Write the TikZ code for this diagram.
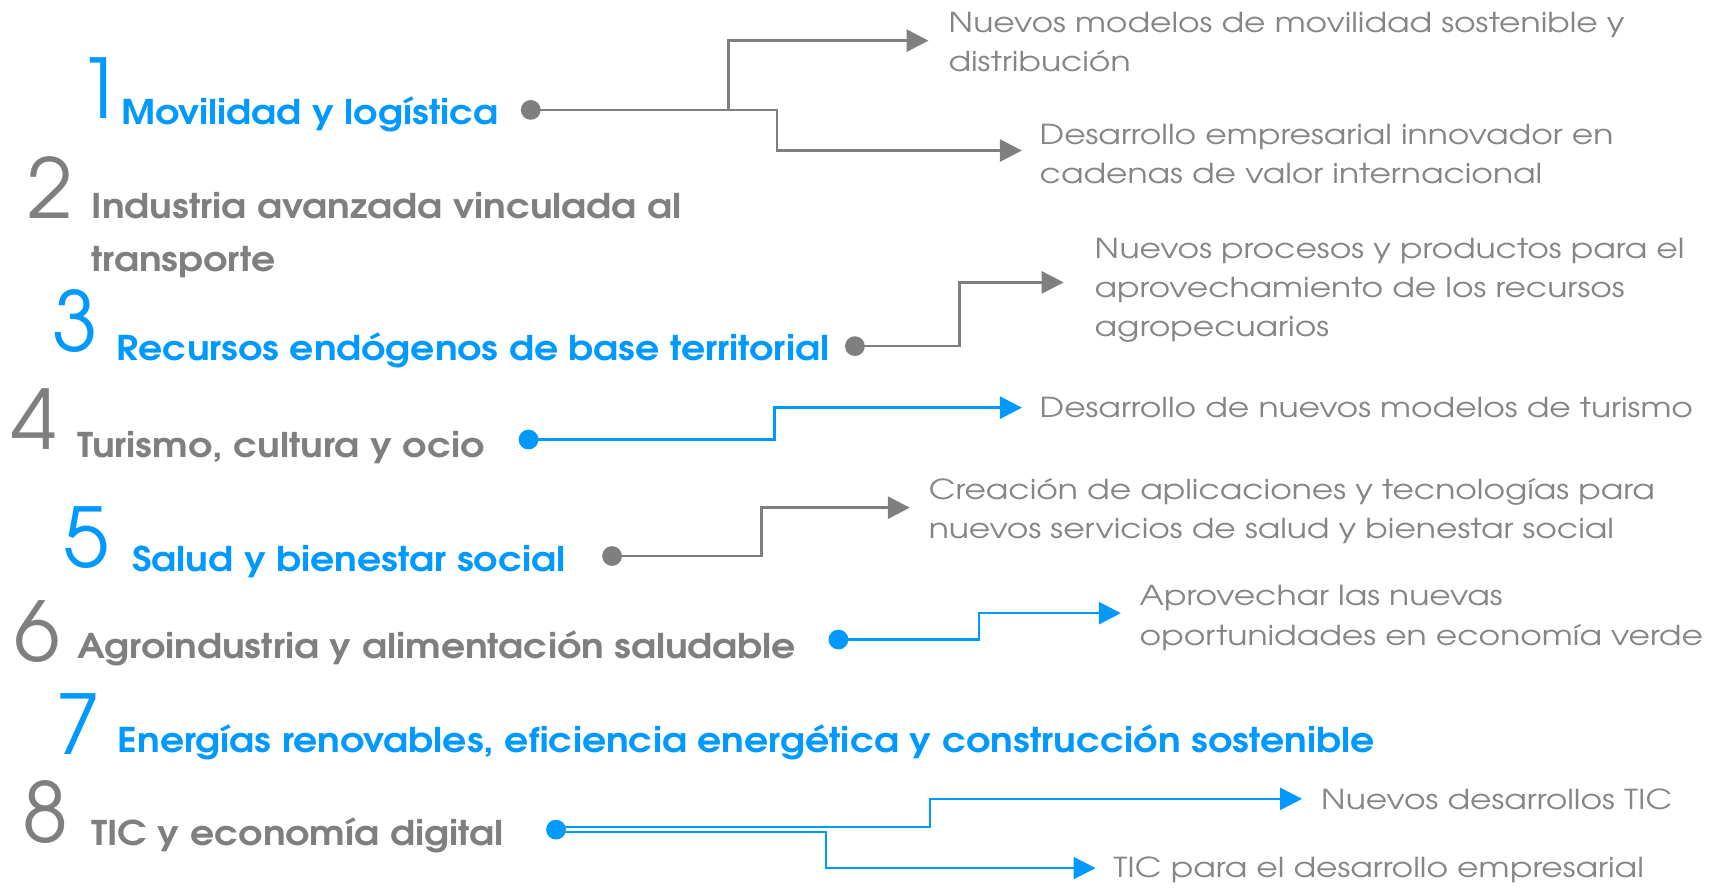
\documentclass[tikz,border=0pt]{standalone}
\usepackage{fontspec}
\setmainfont{TeX Gyre Adventor}
\newfontfamily\rtfont[FakeStretch=1.2]{TeX Gyre Adventor}
\newfontfamily\labfont[FakeStretch=1.11]{TeX Gyre Adventor}
\usetikzlibrary{arrows.meta}
\definecolor{cblue}{HTML}{0099FF}
\definecolor{cgray}{HTML}{7F7F7F}
\definecolor{tgray}{HTML}{858585}
\tikzset{
  num/.style={anchor=base west,inner sep=0,font=\fontsize{75}{75}\selectfont},
  lab/.style={anchor=base west,inner sep=0,font=\labfont\fontsize{31}{48}\selectfont\bfseries,align=left},
  rtxt/.style={anchor=base west,inner sep=0,text=tgray,font=\rtfont\fontsize{25}{35.7}\selectfont,align=left},
  dotn/.style={circle,fill,inner sep=0,minimum size=18pt},
  conn/.style={line width=2.4pt,-{Triangle[length=20pt,width=20pt]}},
  thinconn/.style={conn,line width=1.8pt},
}
\begin{document}
\begin{tikzpicture}[x=1pt,y=-1pt]
\useasboundingbox (0,0) rectangle (1568,810);
% numbers
\node[num,text=cblue] (n1) at (70,108) {1};
\node[num,text=cgray] (n2) at (25,199) {2};
\node[num,text=cblue] (n3) at (48,320) {3};
\node[num,text=cgray] (n4) at (10,409) {4};
\node[num,text=cblue] (n5) at (58,516) {5};
\node[num,text=cgray] (n6) at (13,602) {6};
\node[num,text=cblue] (n7) at (50,687) {7};
\node[num,text=cgray] (n8) at (20,767) {8};
% labels
\node[lab,text=cblue] (l1) at (110,113) {Movilidad y logística};
\node[lab,text=cgray] (l2) at (83,247) {Industria avanzada vinculada al\\transporte};
\node[lab,text=cblue] (l3) at (106,328) {Recursos endógenos de base territorial};
\node[lab,text=cgray] (l4) at (70,416) {Turismo, cultura y ocio};
\node[lab,text=cblue] (l5) at (120,520) {Salud y bienestar social};
\node[lab,text=cgray] (l6) at (70,599) {Agroindustria y alimentación saludable};
\node[lab,text=cblue] (l7) at (107,685) {Energías renovables, eficiencia energética y construcción sostenible};
\node[lab,text=cgray] (l8) at (83,769) {TIC y economía digital};
% dots
\node[dotn,cgray] (d1) at (483,100) {};
\node[dotn,cgray] (d3) at (778,315) {};
\node[dotn,cblue] (d4) at (481,400) {};
\node[dotn,cgray] (d5) at (557,506) {};
\node[dotn,cblue] (d6) at (763,582) {};
\node[dotn,cblue] (d8) at (506,755) {};
% right texts (anchored at the baseline of the last line)
\node[rtxt] (r1a) at (863,65.5) {Nuevos modelos de movilidad sostenible y\\distribución};
\node[rtxt] (r1b) at (946,167) {Desarrollo empresarial innovador en\\cadenas de valor internacional};
\node[rtxt] (r3) at (996,306.5) {Nuevos procesos y productos para el\\aprovechamiento de los recursos\\agropecuarios};
\node[rtxt] (r4) at (946,380) {Desarrollo de nuevos modelos de turismo};
\node[rtxt] (r5) at (845,490) {Creación de aplicaciones y tecnologías para\\nuevos servicios de salud y bienestar social};
\node[rtxt] (r6) at (1037,587) {Aprovechar las nuevas\\oportunidades en economía verde};
\node[rtxt] (r8a) at (1202,737) {Nuevos desarrollos TIC};
\node[rtxt] (r8b) at (1013,799) {TIC para el desarrollo empresarial};
% arrow tips
\coordinate (t1a) at (845,37);
\coordinate (t1b) at (930,137);
\coordinate (t3) at (968,257);
\coordinate (t4) at (930,371);
\coordinate (t5) at (828,462);
\coordinate (t6) at (1020,558);
\coordinate (t8a) at (1185,727);
\coordinate (t8b) at (997,790);
% connectors
\draw[conn,cgray] (d1.center) -- (663,100) -- (663,37) -- (t1a);
\draw[conn,cgray] (d1.center) -- (707,100) -- (707,137) -- (t1b);
\draw[conn,cgray] (d3.center) -- (873,315) -- (873,257) -- (t3);
\draw[conn,cblue] (d4.center) -- (705,400) -- (705,371) -- (t4);
\draw[conn,cgray] (d5.center) -- (693,506) -- (693,462) -- (t5);
\draw[conn,cblue] (d6.center) -- (891,582) -- (891,558) -- (t6);
\draw[thinconn,cblue] ([yshift=2pt]d8.center) -- (846,753) -- (846,727) -- (t8a);
\draw[thinconn,cblue] ([yshift=-2pt]d8.center) -- (752,757) -- (752,790) -- (t8b);
\end{tikzpicture}
\end{document}
